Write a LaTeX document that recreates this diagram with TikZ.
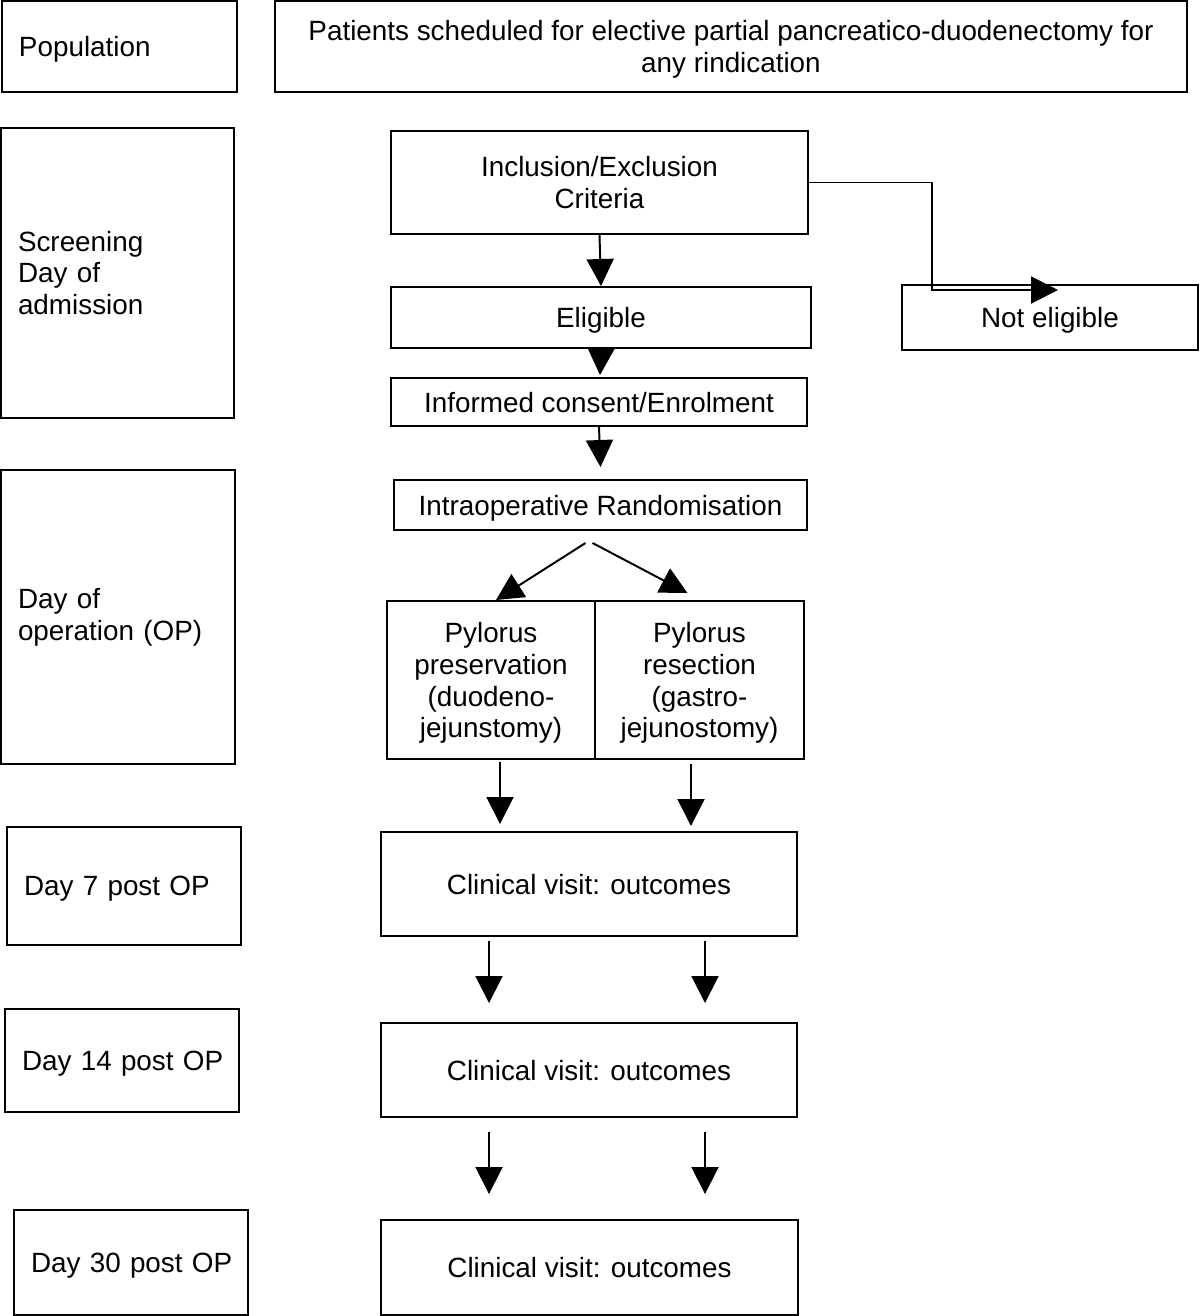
\documentclass[tikz,border=0pt]{standalone}
\usepackage{fontspec}
\setmainfont{Liberation Sans}
\usetikzlibrary{arrows.meta,calc}
\def\upx{0.025cm}
\begin{document}
\begin{tikzpicture}[x=0.025cm,y=-0.025cm,
  font=\fontsize{19.8}{22.7}\selectfont,
  box/.style={draw, line width=1.4pt, inner sep=0pt, align=center, text depth=0pt},
  lbox/.style={draw, line width=1.4pt, inner ysep=0pt, inner xsep=17*\upx, align=left},
  one/.style={text depth=0pt},
  arr/.style={line width=1.4pt, -{Triangle[length=27*\upx, width=27*\upx]}}
]
\useasboundingbox (0,0) rectangle (1200,1316);
% left column
\node[lbox, one, text width=201*\upx, minimum height=91*\upx] (pop) at (119.5,46.5) {Population};
\node[lbox, text width=199*\upx, minimum height=290*\upx] (scr) at (117.5,273) {Screening\\Day of\\admission};
\node[lbox, text width=200*\upx, minimum height=294*\upx] (dop) at (118,617) {Day of\\operation (OP)};
\node[lbox, one, text width=200*\upx, minimum height=118*\upx] (d7) at (124,886) {\mbox{Day 7 post OP}};
\node[lbox, one, text width=200*\upx, minimum height=103*\upx] (d14) at (122,1060.5) {\mbox{Day 14 post OP}};
\node[lbox, one, text width=200*\upx, minimum height=105*\upx] (d30) at (131,1262.5) {\mbox{Day 30 post OP}};
% main flow
\node[box, minimum width=912*\upx, minimum height=91*\upx] (pat) at (731,46.5) {Patients scheduled for elective partial pancreatico-duodenectomy for\\any rindication};
\node[box, minimum width=417*\upx, minimum height=103*\upx] (incl) at (599.5,182.5) {Inclusion/Exclusion\\Criteria};
\node[box, minimum width=420*\upx, minimum height=61*\upx] (elig) at (601,317.5) {Eligible};
\node[box, minimum width=296*\upx, minimum height=65*\upx] (ne) at (1050,317.5) {Not eligible};
\node[box, minimum width=416*\upx, minimum height=48*\upx] (inf) at (599,402) {Informed consent/Enrolment};
\node[box, minimum width=413*\upx, minimum height=50*\upx] (rand) at (600.5,505) {Intraoperative Randomisation};
\node[box, minimum width=208*\upx, minimum height=158*\upx] (pres) at (491,680) {Pylorus\\preservation\\(duodeno-\\jejunstomy)};
\node[box, minimum width=209*\upx, minimum height=158*\upx] (res) at (699.5,680) {Pylorus\\resection\\(gastro-\\jejunostomy)};
\node[box, minimum width=416*\upx, minimum height=104*\upx] (cv1) at (589,884) {Clinical visit: outcomes};
\node[box, minimum width=416*\upx, minimum height=94*\upx] (cv2) at (589,1070) {Clinical visit: outcomes};
\node[box, minimum width=417*\upx, minimum height=95*\upx] (cv3) at (589.5,1267.5) {Clinical visit: outcomes};
% connectors
\draw[arr] (incl.south) -- (elig.north);
\draw[arr] (elig.south) -- ($(inf.north)+(1,-2)$);
\draw[arr] (inf.south) -- ($(rand.north)+(0,-12)$);
\coordinate (sL) at ($(rand.south)+(-15,12)$);
\coordinate (sR) at ($(rand.south)+(-8,12)$);
\draw[arr] (sL) -- ($(pres.north)+(5,0)$);
\draw[arr] (sR) -- ($(res.north)+(-12,-7)$);
\coordinate (p1) at ($(pres.south)+(9,2)$);
\coordinate (p2) at ($(res.south)+(-8.5,4)$);
\draw[arr] (p1) -- ($(p1 |- cv1.north)+(0,-7)$);
\draw[arr] (p2) -- ($(p2 |- cv1.north)+(0,-5)$);
\coordinate (c1) at ($(cv1.south)+(-100,4)$);
\coordinate (c2) at ($(cv1.south)+(116,4)$);
\draw[arr] (c1) -- ($(c1 |- cv2.north)+(0,-19)$);
\draw[arr] (c2) -- ($(c2 |- cv2.north)+(0,-19)$);
\coordinate (c3) at ($(cv2.south)+(-100,14)$);
\coordinate (c4) at ($(cv2.south)+(116,14)$);
\draw[arr] (c3) -- ($(c3 |- cv3.north)+(0,-25)$);
\draw[arr] (c4) -- ($(c4 |- cv3.north)+(0,-25)$);
\draw[arr] (incl.east) -| ($(ne.north west)+(31,6)$) -- ($(ne.north)+(8,6)$);
\end{tikzpicture}
\end{document}
